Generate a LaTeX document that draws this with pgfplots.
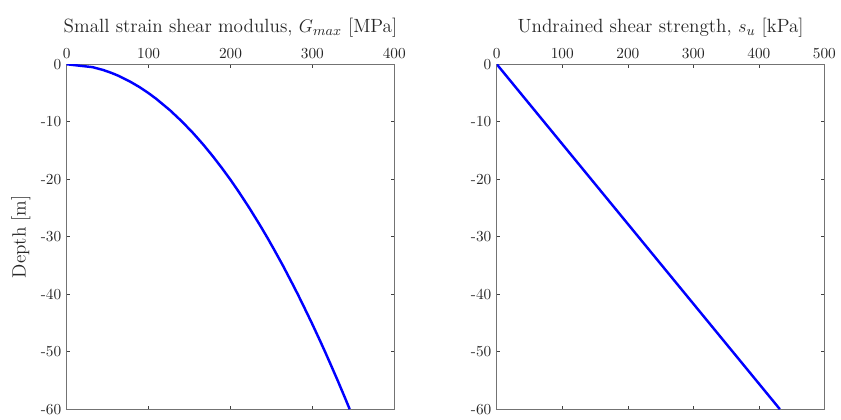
\documentclass[border=0pt]{standalone}
\usepackage{pgfplots}
\pgfplotsset{compat=1.18}
\begin{document}
\begin{tikzpicture}
\pgfplotsset{
  soil/.style={
    scale only axis, width=213.9pt, height=225.2pt,
    ymin=-60, ymax=0, ytick={-60,-50,...,0},
    xticklabel pos=upper,
    tick align=inside, major tick length=2.2pt,
    axis line style={black!55},
    tick style={black!75, line width=0.4pt},
    ticklabel style={font=\normalsize, text=black!85},
    label style={font=\fontsize{12.5}{15}\selectfont, text=black!85},
    /pgf/number format/assume math mode=true,
  }
}
% Gmax profile
\begin{axis}[soil, at={(0pt,0pt)}, anchor=south west,
  xmin=0, xmax=400, xtick={0,100,...,400},
  xlabel={Small strain shear modulus, $G_{max}$ [MPa]},
  ylabel={Depth [m]}]
\addplot[blue, line width=1.6pt] coordinates {
  (0,0) (31.5,-0.5) (44.6,-1) (54.6,-1.5) (63.1,-2) (77.2,-3) (89.2,-4)
  (99.7,-5) (109.2,-6) (126.1,-8) (141.0,-10) (154.5,-12) (166.9,-14)
  (178.4,-16) (189.2,-18) (199.5,-20) (209.2,-22) (223.0,-25) (236.0,-28)
  (244.3,-30) (252.3,-32) (263.9,-35) (274.9,-38) (282.1,-40) (289.0,-42)
  (299.2,-45) (309.0,-48) (315.4,-50) (321.6,-52) (330.8,-55) (339.7,-58)
  (345.5,-60)};
\end{axis}
% su profile
\begin{axis}[soil, at={(280.8pt,0pt)}, anchor=south west,
  xmin=0, xmax=500, xtick={0,100,...,500},
  xlabel={Undrained shear strength, $s_u$ [kPa]}]
\addplot[blue, line width=1.6pt] coordinates {(0,0) (432,-60)};
\end{axis}
\path (-43.55pt,-3.9pt) rectangle (503.1pt,267.15pt);
\end{tikzpicture}
\end{document}
